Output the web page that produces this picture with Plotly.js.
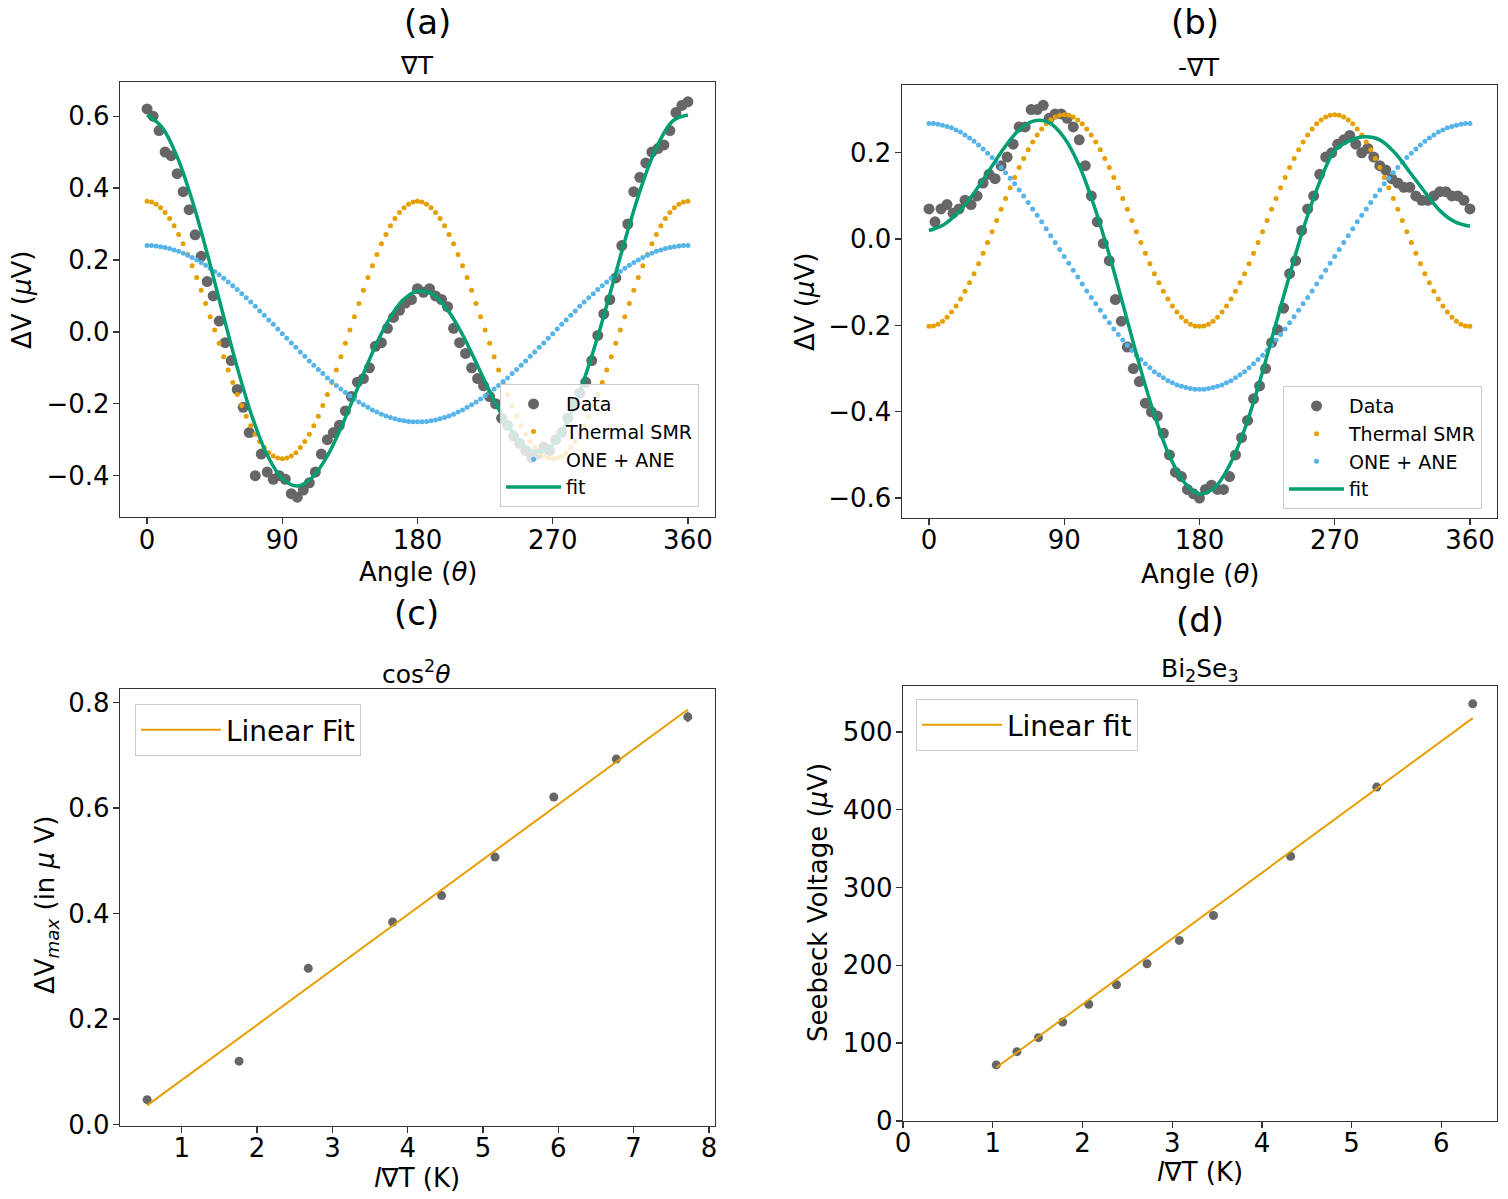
<!DOCTYPE html>
<html>
<head>
<meta charset="utf-8">
<script src="https://cdn.plot.ly/plotly-3.0.1.min.js"></script>
<style>
  html, body { margin: 0; padding: 0; background: #fff; }
  #chart { width: 1508px; height: 1199px; }
</style>
</head>
<body>
<div id="chart"></div>
<script>
/* ── data: angles ── */
const ANGLE_MODEL = [0,3,6,9,12,15,18,21,24,27,30,33,36,39,42,45,48,51,54,57,60,63,66,69,72,75,78,81,84,87,90,
  93,96,99,102,105,108,111,114,117,120,123,126,129,132,135,138,141,144,147,150,153,156,159,162,165,168,171,174,177,180,
  183,186,189,192,195,198,201,204,207,210,213,216,219,222,225,228,231,234,237,240,243,246,249,252,255,258,261,264,267,270,
  273,276,279,282,285,288,291,294,297,300,303,306,309,312,315,318,321,324,327,330,333,336,339,342,345,348,351,354,357,360];
const ANGLE_DATA = [0,4,8,12,16,20,24,28,32,36,40,44,48,52,56,60,64,68,72,76,80,84,88,92,96,100,104,108,112,116,
  120,124,128,132,136,140,144,148,152,156,160,164,168,172,176,180,184,188,192,196,200,204,208,212,216,220,224,228,232,236,
  240,244,248,252,256,260,264,268,272,276,280,284,288,292,296,300,304,308,312,316,320,324,328,332,336,340,344,348,352,356,360];
const ANGLE_FIT = [0,10,20,30,40,50,60,70,80,90,100,110,120,130,140,150,160,170,180,
  190,200,210,220,230,240,250,260,270,280,290,300,310,320,330,340,350,360];

/* ── panel (a): ∇T ── */
const DATA_A = [0.62,0.60,0.56,0.50,0.49,0.44,0.39,0.34,0.27,0.21,
  0.14,0.10,0.03,-0.03,-0.08,-0.16,-0.21,-0.28,-0.40,-0.34,
  -0.39,-0.41,-0.40,-0.41,-0.45,-0.46,-0.44,-0.42,-0.39,-0.34,
  -0.30,-0.28,-0.26,-0.22,-0.18,-0.14,-0.13,-0.10,-0.04,-0.03,
  0.01,0.04,0.06,0.08,0.09,0.12,0.11,0.12,0.10,0.09,
  0.07,0.01,-0.03,-0.06,-0.10,-0.13,-0.15,-0.18,-0.20,-0.24,
  -0.26,-0.29,-0.31,-0.33,-0.35,-0.34,-0.32,-0.33,-0.30,-0.28,
  -0.24,-0.20,-0.17,-0.14,-0.08,-0.01,0.05,0.09,0.15,0.24,
  0.30,0.39,0.43,0.47,0.50,0.51,0.52,0.56,0.61,0.63,
  0.64];
const SMR_A = [0.363,0.361,0.355,0.345,0.332,0.315,0.295,0.271,0.245,0.215,0.184,0.151,0.116,0.079,0.042,0.005,
  -0.032,-0.069,-0.106,-0.141,-0.174,-0.205,-0.235,-0.261,-0.285,-0.305,-0.322,-0.336,-0.345,-0.351,-0.353,
  -0.351,-0.345,-0.336,-0.322,-0.305,-0.285,-0.261,-0.235,-0.205,-0.174,-0.141,-0.106,-0.069,-0.032,0.005,
  0.042,0.079,0.116,0.151,0.184,0.215,0.245,0.271,0.295,0.315,0.332,0.345,0.355,0.361,0.363,
  0.361,0.355,0.345,0.332,0.315,0.295,0.271,0.245,0.215,0.184,0.151,0.116,0.079,0.042,0.005,
  -0.032,-0.069,-0.106,-0.141,-0.174,-0.205,-0.235,-0.261,-0.285,-0.305,-0.322,-0.336,-0.345,-0.351,-0.353,
  -0.351,-0.345,-0.336,-0.322,-0.305,-0.285,-0.261,-0.235,-0.205,-0.174,-0.141,-0.106,-0.069,-0.032,0.005,
  0.042,0.079,0.116,0.151,0.184,0.215,0.245,0.271,0.295,0.315,0.332,0.345,0.355,0.361,0.363];
const ANE_A = [0.240,0.240,0.239,0.237,0.235,0.232,0.228,0.224,0.219,0.213,0.207,0.200,0.193,0.185,0.177,0.168,
  0.159,0.149,0.139,0.128,0.118,0.106,0.095,0.083,0.071,0.058,0.046,0.033,0.021,0.008,-0.005,
  -0.018,-0.031,-0.043,-0.056,-0.068,-0.081,-0.093,-0.105,-0.116,-0.128,-0.138,-0.149,-0.159,-0.169,-0.178,
  -0.187,-0.195,-0.203,-0.210,-0.217,-0.223,-0.229,-0.234,-0.238,-0.242,-0.245,-0.247,-0.249,-0.250,-0.250,
  -0.250,-0.249,-0.247,-0.245,-0.242,-0.238,-0.234,-0.229,-0.223,-0.217,-0.210,-0.203,-0.195,-0.187,-0.178,
  -0.169,-0.159,-0.149,-0.138,-0.128,-0.116,-0.105,-0.093,-0.081,-0.068,-0.056,-0.043,-0.031,-0.018,-0.005,
  0.008,0.021,0.033,0.046,0.058,0.071,0.083,0.095,0.106,0.118,0.128,0.139,0.149,0.159,0.168,
  0.177,0.185,0.193,0.200,0.207,0.213,0.219,0.224,0.228,0.232,0.235,0.237,0.239,0.240,0.240];
const FIT_A = [0.603,0.569,0.487,0.366,0.218,0.058,-0.099,-0.237,-0.343,-0.408,-0.429,-0.405,-0.345,-0.258,-0.158,
  -0.058,0.027,0.087,0.113,0.105,0.061,-0.008,-0.094,-0.182,-0.259,-0.314,-0.334,-0.315,-0.248,-0.143,-0.013,
  0.134,0.282,0.416,0.521,0.587,0.603];

/* ── panel (b): -∇T ── */
const DATA_B = [0.07,0.04,0.07,0.08,0.06,0.07,0.09,0.08,0.10,0.13,
  0.15,0.14,0.17,0.19,0.22,0.26,0.26,0.30,0.30,0.31,
  0.28,0.29,0.29,0.28,0.26,0.23,0.17,0.10,0.04,-0.01,
  -0.05,-0.14,-0.19,-0.25,-0.30,-0.33,-0.38,-0.40,-0.41,-0.45,
  -0.50,-0.54,-0.55,-0.58,-0.59,-0.60,-0.58,-0.57,-0.58,-0.58,
  -0.55,-0.50,-0.46,-0.42,-0.37,-0.34,-0.30,-0.24,-0.21,-0.16,
  -0.08,-0.05,0.02,0.07,0.10,0.15,0.19,0.20,0.22,0.23,
  0.24,0.22,0.20,0.21,0.19,0.17,0.16,0.14,0.13,0.12,
  0.12,0.10,0.09,0.09,0.10,0.11,0.11,0.10,0.10,0.09,
  0.07];
const SMR_B = [-0.202,-0.201,-0.197,-0.190,-0.181,-0.169,-0.155,-0.139,-0.121,-0.101,-0.080,-0.057,-0.033,-0.008,0.017,0.043,
  0.069,0.094,0.119,0.143,0.166,0.187,0.207,0.225,0.241,0.255,0.267,0.276,0.283,0.287,0.288,
  0.287,0.283,0.276,0.267,0.255,0.241,0.225,0.207,0.187,0.166,0.143,0.119,0.094,0.069,0.043,
  0.017,-0.008,-0.033,-0.057,-0.080,-0.101,-0.121,-0.139,-0.155,-0.169,-0.181,-0.190,-0.197,-0.201,-0.202,
  -0.201,-0.197,-0.190,-0.181,-0.169,-0.155,-0.139,-0.121,-0.101,-0.080,-0.057,-0.033,-0.008,0.017,0.043,
  0.069,0.094,0.119,0.143,0.166,0.187,0.207,0.225,0.241,0.255,0.267,0.276,0.283,0.287,0.288,
  0.287,0.283,0.276,0.267,0.255,0.241,0.225,0.207,0.187,0.166,0.143,0.119,0.094,0.069,0.043,
  0.017,-0.008,-0.033,-0.057,-0.080,-0.101,-0.121,-0.139,-0.155,-0.169,-0.181,-0.190,-0.197,-0.201,-0.202];
const ANE_B = [0.268,0.268,0.266,0.264,0.261,0.258,0.253,0.248,0.241,0.234,0.227,0.218,0.209,0.199,0.189,0.178,
  0.166,0.154,0.141,0.128,0.114,0.100,0.085,0.070,0.055,0.040,0.024,0.008,-0.008,-0.024,-0.040,
  -0.056,-0.072,-0.088,-0.104,-0.120,-0.135,-0.150,-0.165,-0.180,-0.194,-0.208,-0.221,-0.234,-0.246,-0.258,
  -0.269,-0.279,-0.289,-0.298,-0.307,-0.314,-0.321,-0.328,-0.333,-0.338,-0.341,-0.344,-0.346,-0.348,-0.348,
  -0.348,-0.346,-0.344,-0.341,-0.338,-0.333,-0.328,-0.321,-0.314,-0.307,-0.298,-0.289,-0.279,-0.269,-0.258,
  -0.246,-0.234,-0.221,-0.208,-0.194,-0.180,-0.165,-0.150,-0.135,-0.120,-0.104,-0.088,-0.072,-0.056,-0.040,
  -0.024,-0.008,0.008,0.024,0.040,0.055,0.070,0.085,0.100,0.114,0.128,0.141,0.154,0.166,0.178,
  0.189,0.199,0.209,0.218,0.227,0.234,0.241,0.248,0.253,0.258,0.261,0.264,0.266,0.268,0.268];
const FIT_B = [0.020,0.034,0.064,0.107,0.159,0.211,0.253,0.274,0.270,0.235,0.170,0.076,-0.037,-0.163,-0.291,
  -0.407,-0.502,-0.564,-0.590,-0.576,-0.524,-0.441,-0.331,-0.207,-0.083,0.034,0.132,0.205,0.228,0.237,0.230,
  0.200,0.155,0.109,0.066,0.040,0.030];

/* ── panel (c): cos²θ ── */
const GRAD_C  = [0.54,1.76,2.68,3.80,4.45,5.16,5.94,6.77,7.72];
const VMAX_C  = [0.047,0.120,0.296,0.384,0.434,0.507,0.621,0.693,0.773];
const VERR_C  = [0.003,0.003,0.003,0.003,0.003,0.003,0.003,0.006,0.010];
const FITX_C  = [0.54,7.72];
const FITY_C  = [0.036,0.787];

/* ── panel (d): Bi2Se3 Seebeck ── */
const GRAD_D  = [1.04,1.27,1.51,1.78,2.07,2.38,2.72,3.08,3.46,4.32,5.28,6.35];
const SEEB_D  = [72,89,107,127,150,175,202,232,264,340,429,536];
const FITX_D  = [1.04,6.35];
const FITY_D  = [68.6,517.6];

const COLORS = {
    data:  '#666666',
    smr:   '#E69F00',
    ane:   '#56B4E9',
    fit:   '#009E73'
};
const FONT = 'DejaVu Sans';

const AXIS_BASE = {
    showgrid: false, zeroline: false,
    showline: true, mirror: true, linecolor: '#333', linewidth: 1.3,
    ticks: 'outside', ticklen: 6, tickwidth: 1.3, tickcolor: '#333',
    tickfont: { size: 26, color: '#000', family: FONT }
};
const XAX = { ...AXIS_BASE, ticklabelstandoff: -7 };
const YAX = { ...AXIS_BASE, ticklabelstandoff: -2 };

const LEGEND_BASE = {
    bgcolor: 'rgba(255,255,255,0.8)',
    bordercolor: '#cccccc', borderwidth: 1,
    xanchor: 'left', yanchor: 'top',
    traceorder: 'normal'
};

/* ── traces ── */
function angleTraces(sfx, legendId, data, smr, ane, fit) {
    return [
        { x: ANGLE_DATA, y: data, name: 'Data', type: 'scatter', mode: 'markers',
          xaxis: 'x' + sfx, yaxis: 'y' + sfx, legend: legendId,
          marker: { color: COLORS.data, size: 11 } },
        { x: ANGLE_MODEL, y: smr, name: 'Thermal SMR', type: 'scatter', mode: 'markers',
          xaxis: 'x' + sfx, yaxis: 'y' + sfx, legend: legendId,
          marker: { color: COLORS.smr, size: 5 } },
        { x: ANGLE_MODEL, y: ane, name: 'ONE + ANE', type: 'scatter', mode: 'markers',
          xaxis: 'x' + sfx, yaxis: 'y' + sfx, legend: legendId,
          marker: { color: COLORS.ane, size: 5 } },
        { x: ANGLE_FIT, y: fit, name: 'fit', type: 'scatter', mode: 'lines',
          xaxis: 'x' + sfx, yaxis: 'y' + sfx, legend: legendId,
          line: { color: COLORS.fit, width: 3.5, shape: 'spline' } }
    ];
}

const traces = [
    ...angleTraces('', 'legend', DATA_A, SMR_A, ANE_A, FIT_A),
    ...angleTraces('2', 'legend2', DATA_B, SMR_B, ANE_B, FIT_B),
    { x: GRAD_C, y: VMAX_C, type: 'scatter', mode: 'markers', showlegend: false,
      xaxis: 'x3', yaxis: 'y3',
      error_y: { type: 'data', array: VERR_C, color: COLORS.data, thickness: 1.5, width: 0 },
      marker: { color: COLORS.data, size: 9 } },
    { x: FITX_C, y: FITY_C, name: 'Linear Fit', type: 'scatter', mode: 'lines',
      xaxis: 'x3', yaxis: 'y3', legend: 'legend3',
      line: { color: COLORS.smr, width: 2 } },
    { x: GRAD_D, y: SEEB_D, type: 'scatter', mode: 'markers', showlegend: false,
      xaxis: 'x4', yaxis: 'y4',
      marker: { color: COLORS.data, size: 9 } },
    { x: FITX_D, y: FITY_D, name: 'Linear fit', type: 'scatter', mode: 'lines',
      xaxis: 'x4', yaxis: 'y4', legend: 'legend4',
      line: { color: COLORS.smr, width: 2 } }
];

/* ── text labels placed in paper coordinates ── */
function label(text, x, y, size, angle) {
    return { text, x, y, xref: 'paper', yref: 'paper', showarrow: false,
             xanchor: 'center', yanchor: 'middle', textangle: angle || 0,
             font: { size, color: '#000', family: FONT } };
}

const annotations = [
    label('(a)', 0.2832, 0.9815, 34),
    label('∇T', 0.2765, 0.9450, 25),
    label('(b)', 0.7924, 0.9815, 34),
    label('-∇T', 0.7951, 0.9433, 25),
    label('(c)', 0.2759, 0.4887, 34),
    label('cos<sup>2</sup><i>θ</i>', 0.2765, 0.4395, 25),
    label('(d)', 0.7958, 0.4829, 34),
    label('Bi<sub>2</sub>Se<sub>3</sub>', 0.7958, 0.4412, 25),
    label('Angle (<i>θ</i>)', 0.2772, 0.5229, 26),
    label('Angle (<i>θ</i>)', 0.7958, 0.5213, 26),
    label('<i>l</i>∇T (K)', 0.2765, 0.0175, 26),
    label('<i>l</i>∇T (K)', 0.7958, 0.0225, 26),
    label('ΔV (<i>μ</i>V)', 0.0146, 0.7498, 26, -90),
    label('ΔV (<i>μ</i>V)', 0.5338, 0.7480, 26, -90),
    label('ΔV<sub><i>max</i></sub> (in <i>μ</i> V)', 0.0305, 0.2452, 26, -90),
    label('Seebeck Voltage (<i>μ</i>V)', 0.5425, 0.2470, 26, -90)
];

const layout = {
    width: 1508, height: 1199,
    margin: { l: 0, r: 0, t: 0, b: 0 },
    paper_bgcolor: '#fff', plot_bgcolor: '#fff',
    font: { family: FONT, color: '#000' },
    showlegend: true,
    xaxis:  { ...XAX, domain: [0.0796, 0.4741], range: [-18, 378], tickvals: [0, 90, 180, 270, 360], anchor: 'y' },
    yaxis:  { ...YAX, domain: [0.5688, 0.9316], range: [-0.515, 0.695], dtick: 0.2, tick0: 0, tickformat: '.1f', anchor: 'x' },
    xaxis2: { ...XAX, domain: [0.5981, 0.9927], range: [-18, 378], tickvals: [0, 90, 180, 270, 360], anchor: 'y2' },
    yaxis2: { ...YAX, domain: [0.5680, 0.9291], range: [-0.646, 0.357], dtick: 0.2, tick0: 0, tickformat: '.1f', anchor: 'x2' },
    xaxis3: { ...XAX, domain: [0.0796, 0.4741], range: [0.18, 8.08], dtick: 1, tick0: 0, anchor: 'y3' },
    yaxis3: { ...YAX, domain: [0.0609, 0.4254], range: [-0.003, 0.826], dtick: 0.2, tick0: 0, tickformat: '.1f', anchor: 'x3' },
    xaxis4: { ...XAX, domain: [0.5988, 0.9927], range: [0, 6.62], dtick: 1, tick0: 0, anchor: 'y4' },
    yaxis4: { ...YAX, domain: [0.0651, 0.4279], range: [0, 559], dtick: 100, tick0: 0, anchor: 'x4' },
    legend:  { ...LEGEND_BASE, x: 0.3316, y: 0.6797, itemwidth: 55, font: { size: 19, family: FONT } },
    legend2: { ...LEGEND_BASE, x: 0.8508, y: 0.6780, itemwidth: 55, font: { size: 19, family: FONT } },
    legend3: { ...LEGEND_BASE, x: 0.0895, y: 0.4128, itemwidth: 80, font: { size: 28, family: FONT } },
    legend4: { ...LEGEND_BASE, x: 0.6074, y: 0.4170, itemwidth: 80, font: { size: 28, family: FONT } },
    annotations
};

Plotly.newPlot('chart', traces, layout, { displayModeBar: false, staticPlot: true });
</script>
</body>
</html>
